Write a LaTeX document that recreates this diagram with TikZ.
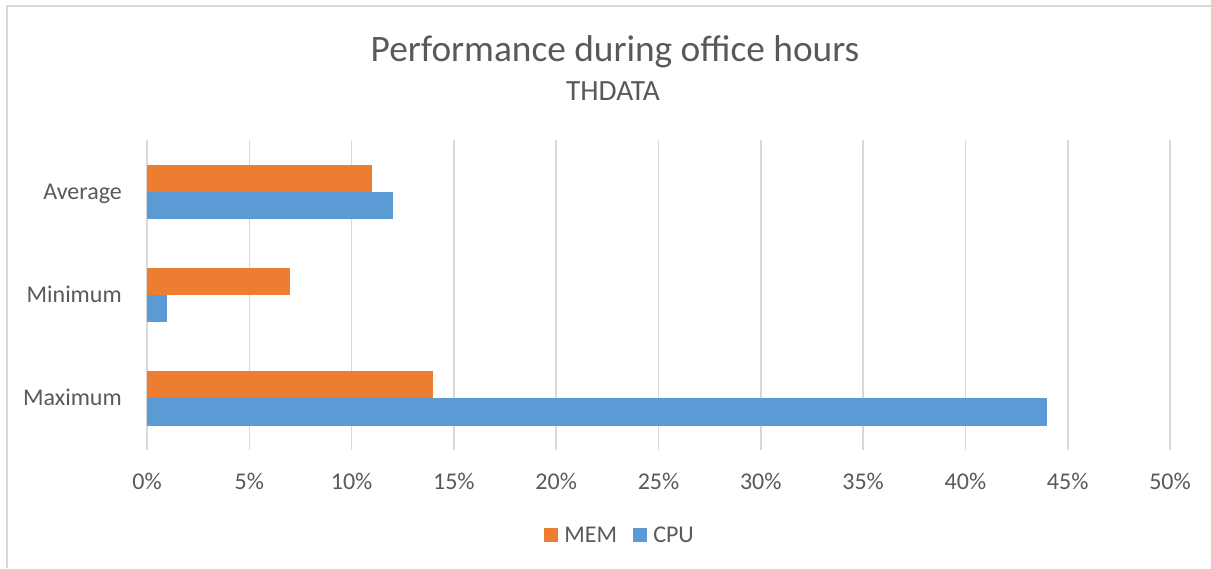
\documentclass[tikz,border=0pt]{standalone}
\usepackage{fontspec}
\setmainfont{Carlito}
\definecolor{memcol}{HTML}{ED7D31}
\definecolor{cpucol}{HTML}{5B9BD5}
\definecolor{txtcol}{HTML}{595959}
\definecolor{gridcol}{HTML}{D9D9D9}
\begin{document}
\begin{tikzpicture}[x=0.75pt,y=-0.75pt,
  lbl/.style={text=txtcol,font=\fontsize{18}{20}\selectfont,inner sep=0pt},
  ticklbl/.style={lbl,anchor=base},
  catlbl/.style={lbl,anchor=base east},
  gridline/.style={draw=gridcol,line width=1.2pt},
  membar/.style={fill=memcol},
  cpubar/.style={fill=cpucol}]
  \useasboundingbox (0,0) rectangle (1211,568);
  % chart frame (top and left edges visible)
  \draw[draw=gridcol,line width=1.5pt] (1211,6) -- (7,6) -- (7,568);
  % titles
  \node[text=txtcol,font=\fontsize{28}{32}\selectfont,anchor=base,inner sep=0pt] (title) at (615,61) {Performance during office hours};
  \node[text=txtcol,font=\fontsize{22}{26}\selectfont,anchor=base,inner sep=0pt] (subtitle) at (613,100) {THDATA};
  % vertical gridlines and tick labels
  \foreach \i in {0,...,10} {
    \pgfmathsetmacro{\xx}{147+102.3*\i}
    \draw[gridline] (\xx,140) -- (\xx,450);
    \pgfmathtruncatemacro{\pc}{5*\i}
    \node[ticklbl] (tick\i) at (\xx,489) {\pc\%};
  }
  % bars: one unit of percent = 20.46 px
  \def\px#1{147+20.46*#1}
  \fill[membar] (147,165) rectangle ({\px{11}},192);
  \fill[cpubar] (147,192) rectangle ({\px{12}},219);
  \fill[membar] (147,268) rectangle ({\px{7}},295);
  \fill[cpubar] (147,295) rectangle ({\px{1}},322);
  \fill[membar] (147,371) rectangle ({\px{14}},398);
  \fill[cpubar] (147,398) rectangle ({\px{44}},426);
  % category labels
  \node[catlbl] (cat1) at (122,199) {Average};
  \node[catlbl] (cat2) at (122,302.5) {Minimum};
  \node[catlbl] (cat3) at (122,405.5) {Maximum};
  % legend
  \fill[membar] (544,528) rectangle (558,542);
  \node[lbl,anchor=base west] (legmem) at (564,542) {MEM};
  \fill[cpubar] (633,528) rectangle (647,542);
  \node[lbl,anchor=base west] (legcpu) at (653,542) {CPU};
\end{tikzpicture}
\end{document}
